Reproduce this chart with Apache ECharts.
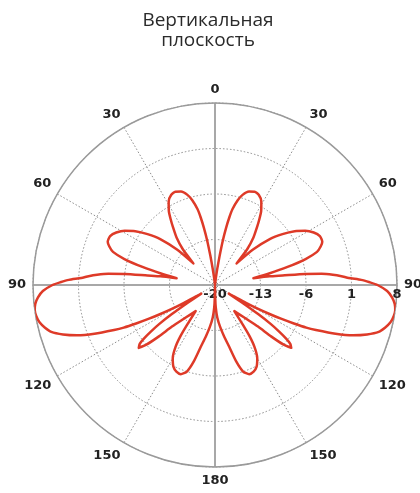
<!DOCTYPE html>
<html>
<head>
<meta charset="utf-8">
<script src="https://cdn.jsdelivr.net/npm/echarts@6/dist/echarts.min.js"></script>
<style>
  html, body { margin: 0; padding: 0; background: #ffffff; }
  #chart { width: 420px; height: 493px; }
</style>
</head>
<body>
<div id="chart"></div>
<script>
// Elevation-plane radiation pattern (dB), one half: angle from zenith, clockwise
const halfAngles = [
  0, 5, 7, 8, 9, 10, 11, 12, 13, 15, 17, 20, 23, 26, 29, 32, 34, 36, 39, 42, 45,
  47, 50, 53, 56, 59, 62, 65, 68, 70, 72, 74, 76, 78, 80,
  81, 82, 83, 84, 85, 86, 87, 88, 89, 90, 92, 94, 96, 98, 100, 102, 104, 106, 108,
  110, 112, 114, 115, 116, 117, 118, 119, 120, 121, 122,
  123, 124, 125, 126, 127, 128, 129.5, 131, 132.5, 134, 137, 140, 143.5,
  145, 146, 147.5, 150, 153, 156, 159, 162, 164.5, 167, 170, 173, 176, 178, 179, 180
];
const halfGain = [
  -20, -20, -19, -17.5, -15.5, -13, -11, -9.3, -8, -6.5, -5.5, -4.7, -4.4, -4.6, -5.3, -6.6, -7.8, -9, -10.6, -12.6, -15.3,
  -12, -9, -7, -5.2, -3.8, -2.8, -2.2, -2.2, -2.7, -3.5, -5.5, -8.5, -11.5, -14,
  -11.5, -9.5, -6, -3.5, -1.8, -0.5, 0.6, 2.5, 3.8, 5, 6.5, 7.3, 7.8, 8, 7.9, 7.6, 7, 6.2, 4.6,
  2.6, 0, -3, -4.5, -6.5, -8.5, -10.5, -12.5, -14.5, -16.5, -17.5,
  -15, -12, -9.5, -7.8, -6.3, -5.3, -4.8, -6, -8.3, -10.8, -12.8, -14, -15,
  -12.5, -10.5, -8.7, -7, -5.9, -5.4, -5.3, -6, -7.8, -10.2, -12, -13.5, -15, -16.5, -18, -20
];

// Radial scale (dB) and angular grid step (degrees)
const radiusMin = -20;
const radiusMax = 8;
const radiusStep = 7;
const angleStep = 30;

// The pattern is symmetric about the vertical axis: right half, then its mirror
const patternData = [];
halfAngles.forEach((a, i) => patternData.push([halfGain[i], a]));
for (let i = halfAngles.length - 2; i >= 0; i--) {
  patternData.push([halfGain[i], 360 - halfAngles[i]]);
}

const gridGray = '#8c8c8c';
const labelFont = { color: '#222222', fontSize: 13, fontWeight: 'bold', fontFamily: 'DejaVu Sans' };

const chart = echarts.init(document.getElementById('chart'));
chart.setOption({
  animation: false,
  backgroundColor: '#ffffff',
  title: {
    text: 'Вертикальная\nплоскость',
    left: 203,
    textAlign: 'center',
    top: 6,
    textStyle: { fontFamily: 'Open Sans', fontSize: 19, fontWeight: 'normal', color: '#2a2a2a', lineHeight: 20 }
  },
  polar: [
    { center: [215, 285], radius: 182 },
    { center: [215, 285], radius: 182 }
  ],
  angleAxis: [
    {
      polarIndex: 0,
      type: 'value', min: 0, max: 360, interval: angleStep,
      startAngle: 90, clockwise: true,
      axisLine: { show: true, lineStyle: { color: '#9a9a9a', width: 1.5 } },
      axisTick: { show: false },
      axisLabel: {
        ...labelFont,
        margin: 7,
        formatter: v => String(v <= 180 ? v : 360 - v)
      },
      splitLine: { show: true, lineStyle: { color: gridGray, width: 1, type: [1.5, 2] } }
    },
    {
      polarIndex: 1,
      type: 'value', min: 0, max: 360, interval: 90,
      startAngle: 0, clockwise: true,
      axisLine: { show: false },
      axisTick: { show: false },
      axisLabel: { show: false },
      splitLine: { show: true, lineStyle: { color: '#a8a8a8', width: 2, type: 'solid' } }
    }
  ],
  radiusAxis: [
    {
      polarIndex: 0,
      min: radiusMin, max: radiusMax, interval: radiusStep,
      axisLine: { show: false },
      axisTick: { show: false },
      axisLabel: { show: false },
      splitLine: { show: true, lineStyle: { color: gridGray, width: 1, type: [1.5, 2] } }
    },
    {
      polarIndex: 1,
      min: radiusMin, max: radiusMax, interval: radiusStep,
      axisLine: { show: false },
      axisTick: { show: false },
      axisLabel: { ...labelFont, margin: -3, verticalAlign: 'top', align: 'center' },
      splitLine: { show: false }
    }
  ],
  series: [
    {
      type: 'line',
      coordinateSystem: 'polar',
      polarIndex: 0,
      data: patternData,
      showSymbol: false,
      smooth: 0.2,
      z: 5,
      lineStyle: { color: '#de3a28', width: 2.5, join: 'round' }
    }
  ]
});
</script>
</body>
</html>
